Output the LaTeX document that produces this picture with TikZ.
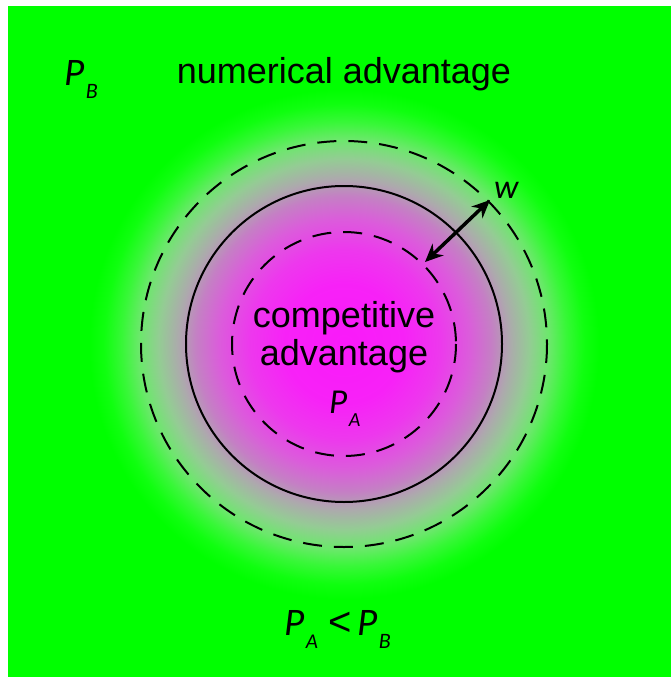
\documentclass[tikz,border=0pt]{standalone}
\usepackage{fontspec}
\setmainfont{Liberation Sans}
\newfontfamily\calfont{Carlito}
\usetikzlibrary{arrows.meta}
\definecolor{bggreen}{RGB}{0,255,0}
\pgfdeclareradialshading{glow}{\pgfpoint{0bp}{0bp}}{%
rgb(0bp)=(0.98,0.10,0.98);
rgb(3.125bp)=(0.97,0.13,0.97);
rgb(4.95bp)=(0.93,0.22,0.93);
rgb(6.51bp)=(0.86,0.36,0.86);
rgb(7.71bp)=(0.77,0.50,0.77);
rgb(8.59bp)=(0.68,0.66,0.68);
rgb(9.64bp)=(0.58,0.80,0.58);
rgb(10.68bp)=(0.42,0.91,0.42);
rgb(11.56bp)=(0.22,0.97,0.22);
rgb(12.5bp)=(0.06,1,0.06);
rgb(13.28bp)=(0,1,0);
rgb(25bp)=(0,1,0);
rgb(50bp)=(0,1,0)}
\newcommand{\PP}[3]{{\fontsize{#2}{#2}\selectfont\calfont\itshape P}\hspace{1.5pt}\raisebox{-13pt}{\fontsize{#3}{#3}\selectfont\calfont\itshape #1}}
\tikzset{
  lab/.style={inner sep=0pt, anchor=base, font=\fontsize{36}{38}\selectfont},
  mathlab/.style={inner sep=0pt, anchor=base west},
  ring/.style={draw=black, line width=2pt},
  dashring/.style={ring, dash pattern=on 19pt off 12pt},
  warrow/.style={line width=3.5pt, {Stealth[length=18pt,width=16pt]}-{Stealth[length=18pt,width=16pt]}}
}
\begin{document}
\begin{tikzpicture}[x=1pt,y=-1pt]
\useasboundingbox (0,0) rectangle (671,677);
\fill[bggreen] (8,7) rectangle (671,677);
\coordinate (c) at (344,344);
\begin{scope}
\clip (8,7) rectangle (671,677);
\fill[shading=glow] (c) circle[radius=480];
\end{scope}
\draw[ring] (c) circle[radius=158];
\draw[dashring] (c) circle[radius=112];
\draw[dashring] (c) circle[radius=203];
\coordinate (w1) at (425,262);
\coordinate (w2) at (490,200);
\draw[warrow] (w1) -- (w2);
\node[lab] (num) at (344,83) {numerical advantage};
\node[lab, align=center] (comp) at (344,365) {competitive\\advantage};
\node[mathlab] (pb) at (64,85) {\PP{B}{39}{22}};
\node[mathlab] (pa) at (329,413) {\PP{A}{35}{20}};
\node[mathlab] (pa2) at (284,635) {\PP{A}{39}{21}};
\node[mathlab, font=\fontsize{40}{40}\selectfont] (lt) at (328,635) {<};
\node[mathlab] (pb2) at (357,635) {\PP{B}{39}{22}};
\node[mathlab] (w) at (494,198) {{\fontsize{34}{34}\selectfont\calfont\itshape w}};
\end{tikzpicture}
\end{document}
